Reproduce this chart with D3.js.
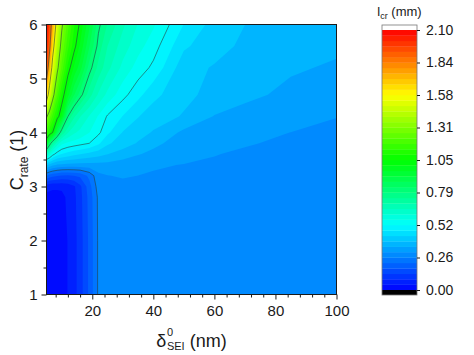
<!DOCTYPE html>
<meta charset="utf-8">
<style>
body { margin: 0; background: #fff; }
text { font-family: "Liberation Sans", Arial, sans-serif; fill: #1a1a1a; }
.axis line { stroke: #1a1a1a; }
.axis path { display: none; }
</style>
<svg width="474" height="355"></svg>
<script src="https://d3js.org/d3.v7.min.js"></script>
<script>

// grid columns: initial SEI thickness (nm)
var thick = [5, 6, 7, 8.5, 10, 12, 14, 16, 19, 22, 25, 30, 35, 40, 50, 60, 70, 85, 100];
// grid rows: C-rate
var crate = [1, 2, 2.8, 3.0, 3.2, 3.4, 3.6, 3.8, 4.0, 4.3, 4.7, 5.2, 5.6, 6.0];
// l_cr (mm), one row per C-rate
var lcr = [
  [0.02, 0.02, 0.02, 0.02, 0.03, 0.045, 0.07, 0.11, 0.185, 0.27, 0.285, 0.29, 0.29, 0.29, 0.29, 0.29, 0.29, 0.29, 0.29],
  [0.02, 0.02, 0.02, 0.02, 0.03, 0.045, 0.07, 0.11, 0.185, 0.27, 0.285, 0.29, 0.29, 0.29, 0.29, 0.29, 0.29, 0.29, 0.29],
  [0.03, 0.03, 0.03, 0.03, 0.035, 0.05, 0.075, 0.115, 0.19, 0.272, 0.287, 0.292, 0.292, 0.292, 0.291, 0.291, 0.29, 0.29, 0.29],
  [0.06, 0.055, 0.05, 0.05, 0.05, 0.06, 0.08, 0.12, 0.2, 0.285, 0.292, 0.295, 0.296, 0.295, 0.294, 0.293, 0.292, 0.291, 0.29],
  [0.22, 0.20, 0.19, 0.18, 0.17, 0.17, 0.175, 0.185, 0.23, 0.295, 0.305, 0.31, 0.306, 0.303, 0.3, 0.297, 0.294, 0.291, 0.29],
  [0.40, 0.38, 0.36, 0.345, 0.34, 0.335, 0.335, 0.335, 0.335, 0.335, 0.335, 0.325, 0.315, 0.31, 0.305, 0.30, 0.297, 0.293, 0.29],
  [0.65, 0.60, 0.545, 0.50, 0.48, 0.465, 0.45, 0.44, 0.425, 0.41, 0.395, 0.375, 0.353, 0.34, 0.32, 0.308, 0.30, 0.295, 0.292],
  [0.98, 0.83, 0.73, 0.64, 0.58, 0.56, 0.55, 0.54, 0.525, 0.49, 0.445, 0.415, 0.39, 0.36, 0.33, 0.32, 0.31, 0.298, 0.295],
  [1.15, 1.10, 1.05, 0.88, 0.74, 0.66, 0.62, 0.60, 0.57, 0.535, 0.49, 0.435, 0.41, 0.39, 0.34, 0.325, 0.315, 0.306, 0.30],
  [1.33, 1.25, 1.17, 1.08, 1.0, 0.79, 0.71, 0.66, 0.61, 0.565, 0.52, 0.48, 0.44, 0.415, 0.39, 0.348, 0.335, 0.318, 0.307],
  [1.68, 1.50, 1.36, 1.20, 1.09, 0.98, 0.88, 0.81, 0.72, 0.65, 0.60, 0.54, 0.495, 0.45, 0.405, 0.38, 0.36, 0.34, 0.325],
  [1.97, 1.72, 1.52, 1.34, 1.21, 1.08, 1.0, 0.94, 0.81, 0.73, 0.67, 0.60, 0.55, 0.515, 0.41, 0.39, 0.37, 0.355, 0.345],
  [2.05, 1.88, 1.64, 1.42, 1.27, 1.15, 1.07, 1.0, 0.88, 0.77, 0.70, 0.635, 0.585, 0.545, 0.445, 0.41, 0.385, 0.365, 0.357],
  [2.09, 1.95, 1.75, 1.50, 1.33, 1.20, 1.10, 1.04, 0.93, 0.80, 0.74, 0.665, 0.61, 0.575, 0.48, 0.42, 0.394, 0.375, 0.365]
];

var xTicks = [20, 40, 60, 80, 100];
var yTicks = [1, 2, 3, 4, 5, 6];
var cbTicks = [0, 0.2625, 0.525, 0.7875, 1.05, 1.3125, 1.575, 1.8375, 2.1];
var cbLabels = ["0.00", "0.26", "0.52", "0.79", "1.05", "1.31", "1.58", "1.84", "2.10"];
var lineLevels = [0.2625, 0.525, 0.7875, 1.05, 1.3125, 1.575, 1.8375];

var svg = d3.select("svg");

var x = d3.scaleLinear().domain([5, 100]).range([46.5, 336.5]);
var y = d3.scaleLinear().domain([1, 6]).range([294.5, 24.5]);

var nx = thick.length, ny = crate.length;
var ix = d3.scaleLinear().domain(d3.range(nx)).range(thick);
var iy = d3.scaleLinear().domain(d3.range(ny)).range(crate);

var values = [];
lcr.forEach(function(row) { row.forEach(function(v) { values.push(v); }); });

var nLev = 48, step = 2.1 / nLev;
var levels = d3.range(nLev).map(function(k) { return k * step; });

var color = d3.scaleLinear()
    .domain([0, 0.525, 1.05, 1.575, 2.1])
    .range(["#0000ff", "#00ffff", "#00ff00", "#ffff00", "#ff0000"]);

// grid coords from d3.contours -> plot pixels
var toPlot = d3.geoTransform({
  point: function(gx, gy) {
    var cx = Math.max(0, Math.min(nx - 1, gx - 0.5));
    var cy = Math.max(0, Math.min(ny - 1, gy - 0.5));
    this.stream.point(x(ix(cx)), y(iy(cy)));
  }
});
var path = d3.geoPath(toPlot);

var bands = d3.contours().size([nx, ny]).thresholds(levels)(values);

svg.append("g").selectAll("path")
    .data(bands)
  .join("path")
    .attr("d", path)
    .attr("fill", function(d) { return color(Math.min(2.1, d.value + step / 2)); });

var lines = d3.contours().size([nx, ny]).thresholds(lineLevels)(values);

svg.append("g").selectAll("path")
    .data(lines)
  .join("path")
    .attr("d", path)
    .attr("fill", "none")
    .attr("stroke", "#27423f")
    .attr("stroke-opacity", 0.75)
    .attr("stroke-width", 0.8);

// frame
svg.append("rect")
    .attr("x", 46.5).attr("y", 24.5)
    .attr("width", 290).attr("height", 270)
    .attr("fill", "none").attr("stroke", "#1a1a1a");

// axes
svg.append("g")
    .attr("class", "axis")
    .attr("transform", "translate(0,294.5)")
    .call(d3.axisBottom(x).tickValues(xTicks).tickSize(5).tickPadding(6))
    .selectAll("text").style("font-size", "15px");

svg.append("g")
    .attr("class", "axis")
    .attr("transform", "translate(0,294.5)")
    .call(d3.axisBottom(x).tickValues(d3.range(8, 100, 4).filter(function(v) { return v % 20; })).tickSize(3).tickFormat(""));

svg.append("g")
    .attr("class", "axis")
    .attr("transform", "translate(46.5,0)")
    .call(d3.axisLeft(y).tickValues(yTicks).tickSize(5).tickPadding(4).tickFormat(d3.format("d")))
    .selectAll("text").style("font-size", "15px");

svg.append("g")
    .attr("class", "axis")
    .attr("transform", "translate(46.5,0)")
    .call(d3.axisLeft(y).tickValues(d3.range(1.5, 6, 1)).tickSize(3).tickFormat(""));

// x title: delta^0_SEI (nm), sup and sub stacked
var xt = svg.append("g");
var t1 = xt.append("text").attr("x", 0).attr("y", 0).style("font-size", "18px").text("\u03b4");
var w1 = t1.node().getComputedTextLength() + 0.5;
var t2 = xt.append("text").attr("x", w1).attr("y", -11).style("font-size", "11px").text("0");
var t3 = xt.append("text").attr("x", w1).attr("y", 3).style("font-size", "11px").text("SEI");
var w3 = Math.max(t2.node().getComputedTextLength(), t3.node().getComputedTextLength());
var t4 = xt.append("text").attr("x", w1 + w3).attr("y", 0).style("font-size", "18px").text("\u00a0(nm)");
var wx = w1 + w3 + t4.node().getComputedTextLength();
xt.attr("transform", "translate(" + (191.5 - wx / 2) + ",347)");

// y title: C_rate (1)
var yt = svg.append("text")
    .attr("transform", "translate(23,160) rotate(-90)")
    .attr("text-anchor", "middle")
    .style("font-size", "18px");
yt.append("tspan").text("C");
yt.append("tspan").attr("dy", 5).style("font-size", "12px").text("rate");
yt.append("tspan").attr("dy", -5).text("\u00a0(1)");

// colour bar
var cb = d3.scaleLinear().domain([0, 2.1]).range([290, 30]);
var cbx = 382, cbw = 35;
var cg = svg.append("g");

cg.selectAll("rect.band")
    .data(levels)
  .join("rect")
    .attr("class", "band")
    .attr("x", cbx).attr("width", cbw)
    .attr("y", function(d) { return cb(d + step); })
    .attr("height", function(d) { return cb(d) - cb(d + step) + 0.3; })
    .attr("fill", function(d) { return color(d + step / 2); });

cg.append("rect").attr("x", cbx).attr("y", 290).attr("width", cbw).attr("height", 5).attr("fill", "#000");
cg.append("rect").attr("x", cbx).attr("y", 25).attr("width", cbw).attr("height", 5).attr("fill", "#fff");
cg.append("rect").attr("x", cbx).attr("y", 25).attr("width", cbw).attr("height", 270)
    .attr("fill", "none").attr("stroke", "#777").attr("stroke-width", 0.8);

var cbAxis = cg.append("g")
    .attr("class", "axis")
    .attr("transform", "translate(" + (cbx + cbw) + ",0)")
    .call(d3.axisRight(cb).tickValues(cbTicks).tickSize(3).tickPadding(6)
      .tickFormat(function(d, i) { return cbLabels[i]; }));
cbAxis.selectAll("text").style("font-size", "14px");

// colour bar title: l_cr (mm)
var ct = svg.append("text")
    .attr("x", 399.5).attr("y", 16)
    .attr("text-anchor", "middle")
    .style("font-size", "13px");
ct.append("tspan").text("l");
ct.append("tspan").attr("dy", 3).style("font-size", "9px").text("cr");
ct.append("tspan").attr("dy", -3).text("\u00a0(mm)");

</script>
